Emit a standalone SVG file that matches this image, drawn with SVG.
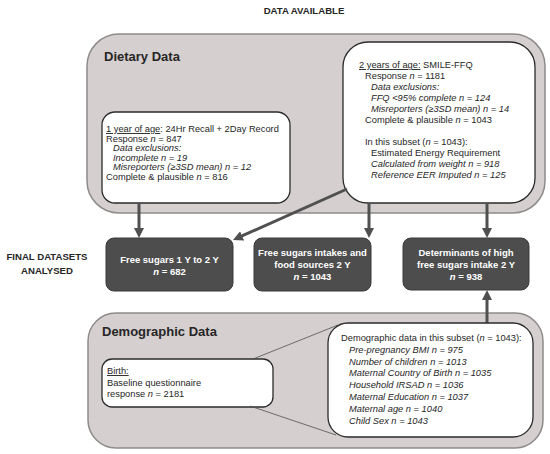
<svg xmlns="http://www.w3.org/2000/svg" width="550" height="454" viewBox="0 0 550 454">
<style>
text{font-family:"Liberation Sans",Arial,sans-serif;fill:#262626}
.t{font-size:9.3px}
.i{font-style:italic}
.h{font-size:13px;font-weight:bold}
.lab{font-size:9.6px;font-weight:bold;text-anchor:middle}
.w{font-size:9.5px;font-weight:bold;fill:#ffffff;text-anchor:middle}
.outer{fill:#d5cfcf;stroke:#8f8b8b;stroke-width:1.5}
.inner{fill:#ffffff;stroke:#2b2b2b;stroke-width:1.3}
.dark{fill:#4d4d4d;stroke:#3a3a3a;stroke-width:1}
.arr{stroke:#505050;stroke-width:3;fill:none;marker-end:url(#ah)}
.thin{stroke:#505050;stroke-width:0.8;fill:none}
</style>
<defs>
<marker id="ah" viewBox="0 0 10 10" refX="2" refY="5" markerWidth="10" markerHeight="10" markerUnits="userSpaceOnUse" orient="auto">
<path d="M0,0 L10,5 L0,10 z" fill="#505050"/>
</marker>
</defs>
<text class="lab" x="304" y="14">DATA AVAILABLE</text>
<g id="dietary">
<rect class="outer" x="87" y="34" width="458" height="179" rx="32"/>
<text class="h" x="104" y="61">Dietary  Data</text>
</g>
<g id="year1">
<rect class="inner" x="102" y="112" width="188" height="91" rx="13"/>
<text class="t" x="106" y="132"><tspan text-decoration="underline">1 year of age</tspan>: 24Hr Recall + 2Day Record</text>
<text class="t" x="106" y="141.5">Response <tspan class="i">n</tspan> = 847</text>
<text class="t i" x="113" y="151">Data exclusions:</text>
<text class="t i" x="113" y="160.5">Incomplete n = 19</text>
<text class="t i" x="113" y="170">Misreporters (≥3SD mean) n = 12</text>
<text class="t" x="106" y="179.5">Complete &amp; plausible <tspan class="i">n</tspan> = 816</text>
</g>
<g id="year2">
<rect class="inner" x="343" y="42" width="192" height="161" rx="25"/>
<text class="t" x="359" y="68"><tspan text-decoration="underline">2 years of age:</tspan>  SMILE-FFQ</text>
<text class="t" x="365" y="79">Response <tspan class="i">n</tspan> = 1181</text>
<text class="t i" x="371" y="90">Data exclusions:</text>
<text class="t i" x="371" y="101">FFQ &lt;95% complete n = 124</text>
<text class="t i" x="371" y="112">Misreporters (≥3SD mean) n = 14</text>
<text class="t" x="365" y="123">Complete &amp; plausible <tspan class="i">n</tspan> = 1043</text>
<text class="t" x="365" y="145">In this subset (<tspan class="i">n</tspan> = 1043):</text>
<text class="t" x="371" y="156">Estimated Energy Requirement</text>
<text class="t i" x="371" y="167">Calculated from weight n = 918</text>
<text class="t i" x="371" y="178">Reference EER Imputed n = 125</text>
</g>
<text class="lab" x="47" y="260">FINAL DATASETS</text>
<text class="lab" x="47" y="274">ANALYSED</text>
<g id="final1">
<rect class="dark" x="106" y="238" width="127" height="53" rx="8"/>
<text class="w" x="169.5" y="263">Free sugars 1 Y to 2 Y</text>
<text class="w" x="169.5" y="275"><tspan font-style="italic">n</tspan> = 682</text>
</g>
<g id="final2">
<rect class="dark" x="254" y="238" width="117" height="53" rx="8"/>
<text class="w" x="312.5" y="256">Free sugars intakes and</text>
<text class="w" x="312.5" y="268">food sources 2 Y</text>
<text class="w" x="312.5" y="280"><tspan font-style="italic">n</tspan> = 1043</text>
</g>
<g id="final3">
<rect class="dark" x="403" y="238" width="126" height="52" rx="8"/>
<text class="w" x="466" y="256">Determinants of high</text>
<text class="w" x="466" y="268">free sugars intake 2 Y</text>
<text class="w" x="466" y="280"><tspan font-style="italic">n</tspan> = 938</text>
</g>
<g id="demographic">
<rect class="outer" x="88" y="313" width="455" height="135" rx="28"/>
<text class="h" x="102" y="336">Demographic  Data</text>
</g>
<g id="birth">
<rect class="inner" x="102" y="359" width="171" height="48" rx="10"/>
<text class="t" x="107" y="374"><tspan text-decoration="underline">Birth:</tspan></text>
<text class="t" x="107" y="386">Baseline questionnaire</text>
<text class="t" x="107" y="397">response <tspan class="i">n</tspan> = 2181</text>
</g>
<g id="connectors">
<line class="thin" x1="253" y1="359" x2="338" y2="325"/>
<line class="thin" x1="250" y1="406" x2="336" y2="435"/>
<line class="arr" x1="139" y1="203" x2="139" y2="230"/>
<line class="arr" x1="347" y1="189" x2="240.3" y2="236.7"/>
<line class="arr" x1="369" y1="203" x2="369" y2="230"/>
<line class="arr" x1="487" y1="203" x2="487" y2="230"/>
<line class="arr" x1="487" y1="323" x2="487" y2="298"/>
</g>
<g id="subset">
<rect class="inner" x="328" y="323" width="205" height="114" rx="20"/>
<text class="t" x="341" y="341">Demographic data in this subset (<tspan class="i">n</tspan> = 1043):</text>
<text class="t i" x="349" y="353">Pre-pregnancy BMI n = 975</text>
<text class="t i" x="349" y="364.5">Number of children n = 1013</text>
<text class="t i" x="349" y="376">Maternal Country of Birth n = 1035</text>
<text class="t i" x="349" y="388">Household IRSAD n = 1036</text>
<text class="t i" x="349" y="400">Maternal Education n = 1037</text>
<text class="t i" x="349" y="412">Maternal age n = 1040</text>
<text class="t i" x="349" y="424">Child Sex n = 1043</text>
</g>
</svg>
